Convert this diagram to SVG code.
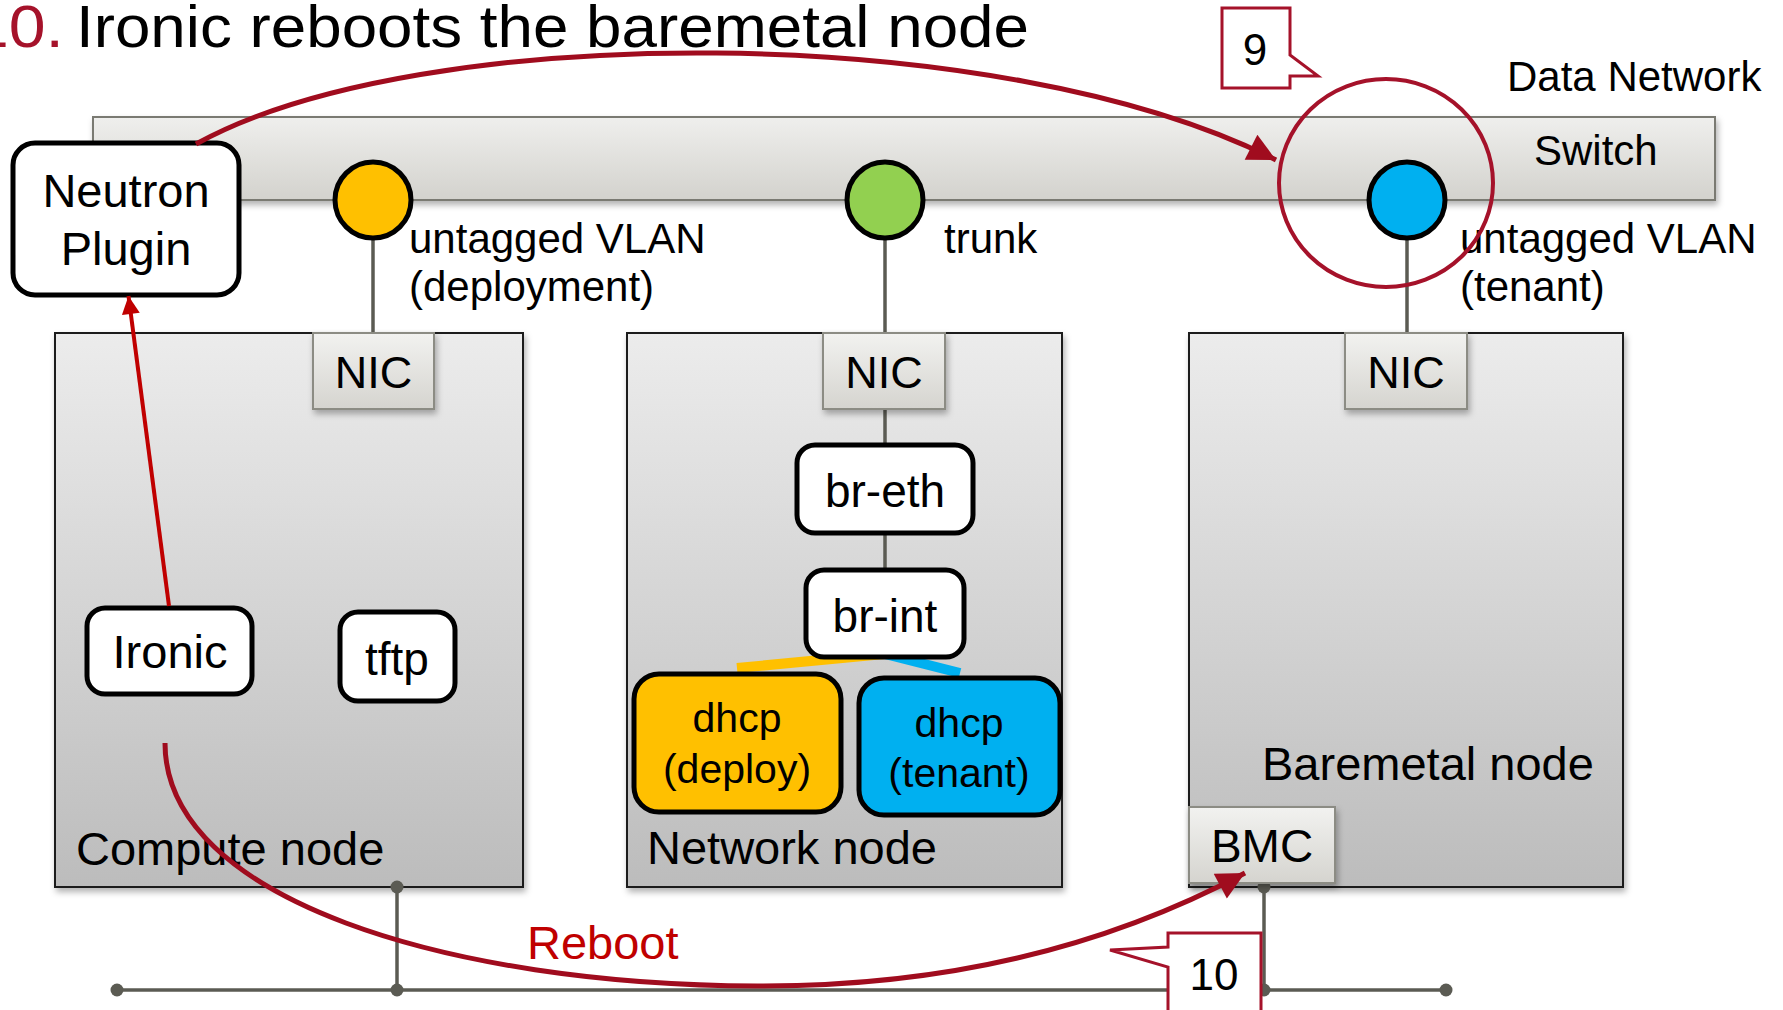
<svg xmlns="http://www.w3.org/2000/svg" width="1783" height="1010" viewBox="0 0 1783 1010">
<defs>
<style>
text{font-family:"Liberation Sans",Arial,sans-serif;fill:#000}
.t42{font-size:42px}
.t46{font-size:46px}
.t47{font-size:47px}
.t41{font-size:41px}
.mid{text-anchor:middle}
.node{fill:url(#gNode);stroke:#1a1a1a;stroke-width:2}
.nic{fill:url(#gNic);stroke:#8c8c84;stroke-width:2}
.wbox{fill:#fff;stroke:#000;stroke-width:5}
.gl{stroke:#5b5b53;stroke-width:3.5;fill:none}
.dot{fill:#5b5b53}
.port{stroke:#000;stroke-width:5}
.arc{fill:none;stroke:#A00C1E;stroke-width:5}
.callout{fill:#fff;stroke:#A5122A;stroke-width:3}
</style>
<linearGradient id="gNode" x1="0" y1="0" x2="0" y2="1">
<stop offset="0" stop-color="#ececec"/>
<stop offset="1" stop-color="#bcbcbc"/>
</linearGradient>
<linearGradient id="gNic" x1="0" y1="0" x2="0" y2="1">
<stop offset="0" stop-color="#f2f2f0"/>
<stop offset="1" stop-color="#d5d4cf"/>
</linearGradient>
<linearGradient id="gBar" x1="0" y1="0" x2="0" y2="1">
<stop offset="0" stop-color="#efefed"/>
<stop offset="1" stop-color="#d3d2cd"/>
</linearGradient>
<filter id="sh" x="-10%" y="-10%" width="130%" height="130%">
<feDropShadow dx="2" dy="4" stdDeviation="3" flood-color="#000" flood-opacity="0.3"/>
</filter>
<marker id="ahDark" viewBox="0 0 10 10" refX="10" refY="5" markerWidth="32" markerHeight="28" markerUnits="userSpaceOnUse" orient="auto">
<path d="M0,0 L10,5 L0,10 Z" fill="#A00C1E"/>
</marker>
<marker id="ahRed" viewBox="0 0 10 10" refX="10" refY="5" markerWidth="20" markerHeight="18" markerUnits="userSpaceOnUse" orient="auto">
<path d="M0,0 L10,5 L0,10 Z" fill="#C00000"/>
</marker>
</defs>

<rect width="1783" height="1010" fill="#fff"/>

<g id="title">
<text x="-28" y="47" font-size="59" textLength="92" lengthAdjust="spacingAndGlyphs" style="fill:#A5122A">10.</text>
<text x="76" y="47" font-size="59" textLength="953" lengthAdjust="spacingAndGlyphs">Ironic reboots the baremetal node</text>
</g>

<g id="switch">
<rect x="93" y="117" width="1622" height="83" fill="url(#gBar)" stroke="#7a7a72" stroke-width="2" filter="url(#sh)"/>
<text class="t42" x="1534" y="165">Switch</text>
<text class="t42" x="1507" y="91">Data Network</text>
</g>

<g id="compute-node">
<rect class="node" x="55" y="333" width="468" height="554" filter="url(#sh)"/>
<text class="t47" x="76" y="865">Compute node</text>
</g>
<g id="network-node">
<rect class="node" x="627" y="333" width="435" height="554" filter="url(#sh)"/>
<text class="t47" x="647" y="864">Network node</text>
</g>
<g id="baremetal-node">
<rect class="node" x="1189" y="333" width="434" height="554" filter="url(#sh)"/>
<text class="t47" x="1262" y="780">Baremetal node</text>
</g>

<g id="connectors">
<line class="gl" x1="373" y1="200" x2="373" y2="333"/>
<line class="gl" x1="885" y1="200" x2="885" y2="333"/>
<line class="gl" x1="1407" y1="200" x2="1407" y2="333"/>
<line class="gl" x1="885" y1="409" x2="885" y2="445"/>
<line class="gl" x1="885" y1="533" x2="885" y2="570"/>
<line x1="737" y1="668" x2="884" y2="654" stroke="#FFC000" stroke-width="10"/>
<line x1="885" y1="654" x2="960" y2="673" stroke="#00B0F0" stroke-width="10"/>
<line class="gl" x1="117" y1="990" x2="1446" y2="990"/>
<line class="gl" x1="397" y1="887" x2="397" y2="990"/>
<line class="gl" x1="1264" y1="887" x2="1264" y2="990"/>
<circle class="dot" cx="117" cy="990" r="6.5"/>
<circle class="dot" cx="397" cy="887" r="6.5"/>
<circle class="dot" cx="397" cy="990" r="6.5"/>
<circle class="dot" cx="1264" cy="887" r="6.5"/>
<circle class="dot" cx="1264" cy="990" r="6.5"/>
<circle class="dot" cx="1446" cy="990" r="6.5"/>
</g>

<g id="port-deploy">
<circle class="port" cx="373" cy="200" r="38" fill="#FFC000"/>
<text class="t42" x="409" y="253">untagged VLAN</text>
<text class="t42" x="409" y="301">(deployment)</text>
</g>
<g id="port-trunk">
<circle class="port" cx="885" cy="200" r="38" fill="#92D050"/>
<text class="t42" x="944" y="253">trunk</text>
</g>
<g id="port-tenant">
<circle class="port" cx="1407" cy="200" r="38" fill="#00B0F0"/>
<text class="t42" x="1460" y="253">untagged VLAN</text>
<text class="t42" x="1460" y="301">(tenant)</text>
</g>

<g id="nic-compute">
<rect class="nic" x="313" y="333" width="121" height="76" filter="url(#sh)"/>
<text class="mid" x="373.5" y="388" font-size="45">NIC</text>
</g>
<g id="nic-network">
<rect class="nic" x="823" y="333" width="122" height="76" filter="url(#sh)"/>
<text class="mid" x="884" y="388" font-size="45">NIC</text>
</g>
<g id="nic-baremetal">
<rect class="nic" x="1345" y="333" width="122" height="76" filter="url(#sh)"/>
<text class="mid" x="1406" y="388" font-size="45">NIC</text>
</g>
<g id="bmc">
<rect class="nic" x="1189" y="807" width="146" height="76" filter="url(#sh)"/>
<text class="t46 mid" x="1262" y="862">BMC</text>
</g>

<g id="neutron-plugin">
<rect class="wbox" x="13" y="143" width="226" height="152" rx="22"/>
<text class="t47 mid" x="126" y="207">Neutron</text>
<text class="t47 mid" x="126" y="265">Plugin</text>
</g>
<g id="ironic">
<rect class="wbox" x="87" y="608" width="165" height="86" rx="18"/>
<text class="t47 mid" x="170" y="668">Ironic</text>
</g>
<g id="tftp">
<rect class="wbox" x="340" y="612" width="115" height="89" rx="18"/>
<text class="t46 mid" x="397" y="675">tftp</text>
</g>
<g id="br-eth">
<rect class="wbox" x="797" y="445" width="176" height="88" rx="18"/>
<text class="t46 mid" x="885" y="507">br-eth</text>
</g>
<g id="br-int">
<rect class="wbox" x="806" y="570" width="158" height="87" rx="18"/>
<text class="t46 mid" x="885" y="632">br-int</text>
</g>
<g id="dhcp-deploy">
<rect class="wbox" x="634" y="674" width="207" height="138" rx="25" style="fill:#FFC000"/>
<text class="t41 mid" x="737" y="732">dhcp</text>
<text class="t41 mid" x="737" y="783">(deploy)</text>
</g>
<g id="dhcp-tenant">
<rect class="wbox" x="859" y="678" width="201" height="137" rx="25" style="fill:#00B0F0"/>
<text class="t41 mid" x="959" y="737">dhcp</text>
<text class="t41 mid" x="959" y="787">(tenant)</text>
</g>

<g id="arrows">
<line x1="169" y1="606" x2="128.5" y2="296" stroke="#C00000" stroke-width="4" marker-end="url(#ahRed)"/>
<path class="arc" d="M196,144 C420,20 1000,20 1276,160" marker-end="url(#ahDark)"/>
<path class="arc" d="M165,743 C165,900 450,985 757,986 C950,987 1110,945 1245,873" marker-end="url(#ahDark)"/>
<ellipse cx="1386" cy="183" rx="107" ry="104" fill="none" stroke="#A5122A" stroke-width="4"/>
<text class="t47" x="527" y="959" style="fill:#C00000">Reboot</text>
</g>

<g id="callout-9">
<path class="callout" d="M1222,8 H1290 V55 L1318,76 L1290,76 V88 H1222 Z"/>
<text class="mid" x="1255" y="65" font-size="44">9</text>
</g>
<g id="callout-10">
<path class="callout" d="M1168,933 H1261 V1015 H1168 V967 L1110,950 L1168,947 Z"/>
<text class="mid" x="1214" y="990" font-size="44">10</text>
</g>
</svg>
